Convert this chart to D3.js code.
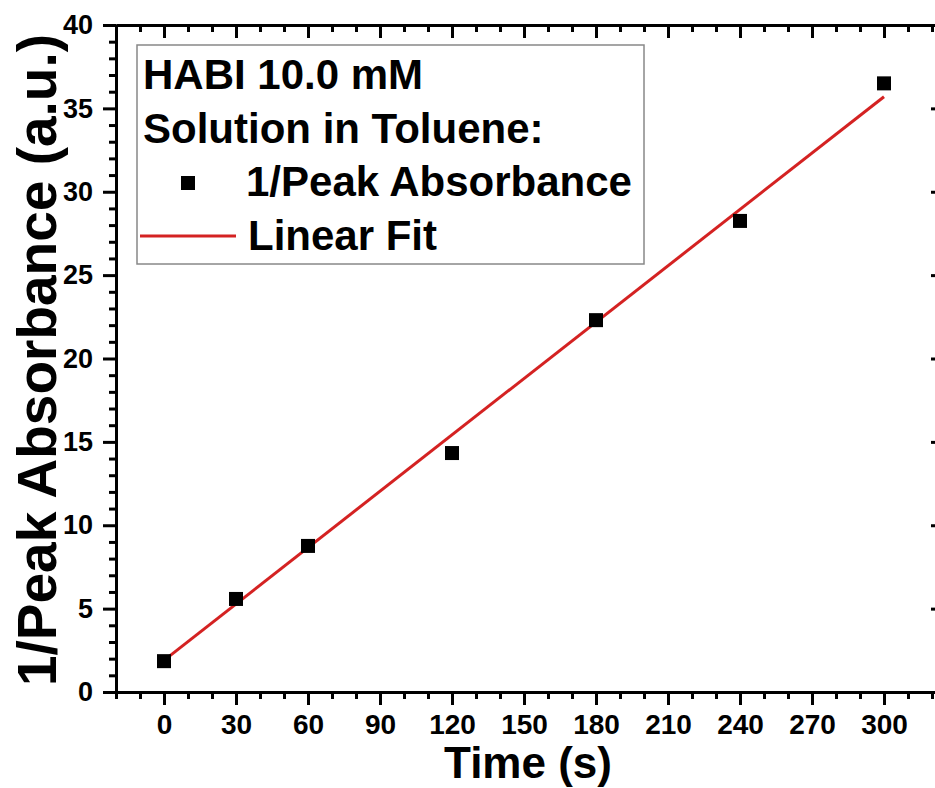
<!DOCTYPE html>
<html>
<head>
<meta charset="utf-8">
<script src="https://cdn.jsdelivr.net/npm/d3@7"></script>
<style>
  body { margin: 0; background: #fff; }
  svg { display: block; font-family: "Liberation Sans", Arial, sans-serif; font-weight: bold; }
  .axis path, .axis line { stroke: #000; }
</style>
</head>
<body>
<script>
// data
var times = [0, 30, 60, 120, 180, 240, 300];
var invAbs = [1.85, 5.58, 8.76, 14.33, 22.3, 28.25, 36.5];
var fitX = [0, 300];
var fitY = [1.9, 35.7];
var xTicks = [0, 30, 60, 90, 120, 150, 180, 210, 240, 270, 300];
var yTicks = [0, 5, 10, 15, 20, 25, 30, 35, 40];
var legendLines = ['HABI 10.0 mM', 'Solution in Toluene:', '1/Peak Absorbance', 'Linear Fit'];

var width = 935, height = 788;
var plotLeft = 116, plotRight = 944, plotTop = 25, plotBottom = 692;

var svg = d3.select('body').append('svg')
  .attr('width', width)
  .attr('height', height);

var x = d3.scaleLinear().domain([-20, 325]).range([plotLeft, plotRight]);
var y = d3.scaleLinear().domain([0, 40]).range([plotBottom, plotTop]);

var xMinor = d3.range(-20, 326, 10).filter(function (d) { return d % 30 !== 0; });
var yMinor = d3.range(0, 41, 1).filter(function (d) { return d % 5 !== 0; });

function styleAxis(g) {
  g.attr('class', 'axis');
  g.select('.domain').attr('stroke-width', 3);
  g.selectAll('.tick line').attr('stroke-width', 3);
}

// minor ticks
svg.append('g').attr('transform', 'translate(0,' + plotBottom + ')')
  .call(d3.axisBottom(x).tickValues(xMinor).tickSize(7).tickSizeOuter(0).tickFormat(''))
  .call(styleAxis);
svg.append('g').attr('transform', 'translate(0,' + plotTop + ')')
  .call(d3.axisTop(x).tickValues(xMinor).tickSize(-7).tickSizeOuter(0).tickFormat(''))
  .call(styleAxis);
svg.append('g').attr('transform', 'translate(' + plotLeft + ',0)')
  .call(d3.axisLeft(y).tickValues(yMinor).tickSize(7).tickSizeOuter(0).tickFormat(''))
  .call(styleAxis);
svg.append('g').attr('transform', 'translate(' + plotRight + ',0)')
  .call(d3.axisRight(y).tickValues(yMinor).tickSize(-7).tickSizeOuter(0).tickFormat(''))
  .call(styleAxis);

// major ticks + labels
var xAxisEl = svg.append('g').attr('transform', 'translate(0,' + plotBottom + ')')
  .call(d3.axisBottom(x).tickValues(xTicks).tickSize(13).tickSizeOuter(0).tickPadding(9))
  .call(styleAxis);
xAxisEl.selectAll('text').attr('font-size', 28).attr('font-family', null).attr('fill', '#000');

svg.append('g').attr('transform', 'translate(0,' + plotTop + ')')
  .call(d3.axisTop(x).tickValues(xTicks).tickSize(-13).tickSizeOuter(0).tickFormat(''))
  .call(styleAxis);

var yAxisEl = svg.append('g').attr('transform', 'translate(' + plotLeft + ',0)')
  .call(d3.axisLeft(y).tickValues(yTicks).tickSize(13).tickSizeOuter(0).tickPadding(10))
  .call(styleAxis);
yAxisEl.selectAll('text').attr('font-size', 27).attr('font-family', null).attr('fill', '#000');

svg.append('g').attr('transform', 'translate(' + plotRight + ',0)')
  .call(d3.axisRight(y).tickValues(yTicks).tickSize(-13).tickSizeOuter(0).tickFormat(''))
  .call(styleAxis);

// axis titles
svg.append('text')
  .attr('x', 528).attr('y', 778)
  .attr('text-anchor', 'middle')
  .attr('font-size', 44)
  .text('Time (s)');

svg.append('text')
  .attr('transform', 'translate(56,360) rotate(-90)')
  .attr('text-anchor', 'middle')
  .attr('font-size', 55)
  .text('1/Peak Absorbance (a.u.)');

// linear fit
var line = d3.line()
  .x(function (d) { return x(d[0]); })
  .y(function (d) { return y(d[1]); });
svg.append('path')
  .datum(fitX.map(function (d, i) { return [d, fitY[i]]; }))
  .attr('d', line)
  .attr('fill', 'none')
  .attr('stroke', '#d42222')
  .attr('stroke-width', 3);

// data points
var markerSize = 14;
svg.selectAll('.pt').data(times).enter().append('rect')
  .attr('class', 'pt')
  .attr('x', function (d) { return x(d) - markerSize / 2; })
  .attr('y', function (d, i) { return y(invAbs[i]) - markerSize / 2; })
  .attr('width', markerSize)
  .attr('height', markerSize)
  .attr('fill', '#000');

// legend
var legend = svg.append('g');
legend.append('rect')
  .attr('x', 137).attr('y', 45)
  .attr('width', 507).attr('height', 219)
  .attr('fill', '#fff')
  .attr('stroke', '#888')
  .attr('stroke-width', 1.5);

var baselines = [89, 142.5, 196, 249.5];
var textX = [143, 143, 246, 248];
legend.selectAll('.lt').data(legendLines).enter().append('text')
  .attr('class', 'lt')
  .attr('x', function (d, i) { return textX[i]; })
  .attr('y', function (d, i) { return baselines[i]; })
  .attr('font-size', 42)
  .text(function (d) { return d; });

legend.append('rect')
  .attr('x', 188 - markerSize / 2).attr('y', 183 - markerSize / 2)
  .attr('width', markerSize).attr('height', markerSize)
  .attr('fill', '#000');
legend.append('line')
  .attr('x1', 140).attr('x2', 236)
  .attr('y1', 236).attr('y2', 236)
  .attr('stroke', '#d42222')
  .attr('stroke-width', 3);
</script>
</body>
</html>
